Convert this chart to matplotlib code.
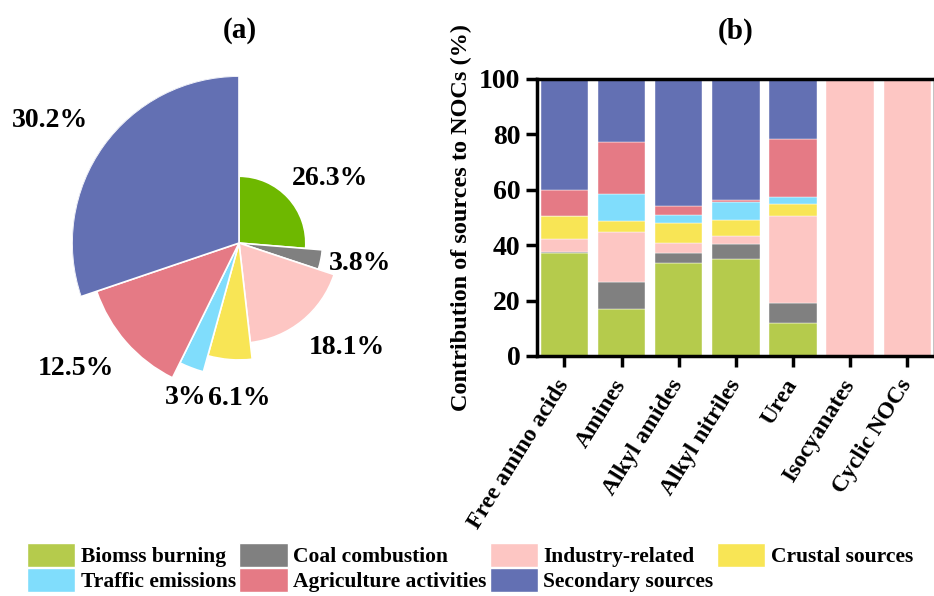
import numpy as np
import matplotlib
matplotlib.use("Agg")
from matplotlib import pyplot as plt
from matplotlib.patches import Patch

plt.rcParams['font.family'] = ['Liberation Serif', 'DejaVu Serif']
plt.rcParams['font.weight'] = 'bold'

# source categories (bottom -> top in the stacked bars)
sources = ["Biomss burning", "Coal combustion", "Industry-related", "Crustal sources",
           "Traffic emissions", "Agriculture activities", "Secondary sources"]
colors = ['#b5cb4c', '#808080', '#fdc6c3', '#f8e555', '#80ddfc', '#e57a85', '#6370b3']
pie_colors = ['#6eb800', '#808080', '#fdc6c3', '#f8e555', '#80ddfc', '#e57a85', '#6370b3']

# (a) overall contribution, %
pie_vals = [26.3, 3.8, 18.1, 6.1, 3.0, 12.5, 30.2]
pie_labels = ["26.3%", "3.8%", "18.1%", "6.1%", "3%", "12.5%", "30.2%"]

# (b) contribution of each source per NOC class, %
classes = ["Free amino acids", "Amines", "Alkyl amides", "Alkyl nitriles",
           "Urea", "Isocyanates", "Cyclic NOCs"]
biomass = [37.1, 17.1, 33.6, 35.0, 11.9, 0, 0]
coal = [0.5, 9.7, 3.7, 5.6, 7.2, 0, 0]
industry = [4.5, 18.1, 3.5, 2.8, 31.4, 100, 100]
crustal = [8.5, 3.7, 7.2, 5.8, 4.5, 0, 0]
traffic = [0.0, 9.8, 2.9, 6.5, 2.4, 0, 0]
agriculture = [9.5, 18.9, 3.1, 0.5, 20.9, 0, 0]
secondary = [39.9, 22.7, 46.0, 43.8, 21.7, 0, 0]

fig = plt.figure(figsize=(9.34, 5.96), dpi=100)

# ---- (a) rose-style pie on a polar axes
axp = fig.add_axes([0.0771, 0.312, 0.3576, 0.5604], projection='polar')
frac = np.array(pie_vals) / np.sum(pie_vals)
widths = frac * 2 * np.pi
starts = np.concatenate([[0], np.cumsum(widths)[:-1]])
radii = 0.4 + 0.1 * np.arange(len(pie_vals))
axp.set_theta_zero_location('N')
axp.set_theta_direction(-1)
axp.bar(starts, radii, width=widths, align='edge', color=pie_colors,
        edgecolor='white', linewidth=1.2)
axp.set_ylim(0, 1)
axp.set_axis_off()

nudge = [7.2, -2.1, -7.0, -4.5, -2.0, 3.7, -2.6]
lab_r = [0.67, 0.737, 0.90, 0.93, 0.98, 1.23, 1.35]
for s, w, lab, dn, r in zip(starts, widths, pie_labels, nudge, lab_r):
    th = s + w / 2 + np.deg2rad(dn)
    axp.text(th, r, lab, ha='center', va='center', fontsize=20, fontweight='bold')

# ---- (b) stacked bars
ax = fig.add_axes([0.575, 0.4027, 0.4256, 0.4648])
x = np.arange(len(classes))
bottom = np.zeros(len(classes))
for vals, c in zip([biomass, coal, industry, crustal, traffic, agriculture, secondary], colors):
    ax.bar(x, vals, bottom=bottom, width=0.83, color=c, edgecolor='white', linewidth=0.3)
    bottom += np.array(vals)

ax.set_xlim(-0.478, 6.478)
ax.set_ylim(0, 100)
ax.set_yticks([0, 20, 40, 60, 80, 100])
ax.set_xticks(x)
ax.set_xticklabels(classes, rotation=58, ha='right', va='center', rotation_mode='anchor', fontsize=17)
for lab in ax.get_yticklabels():
    lab.set_fontsize(20)
ax.tick_params(axis='y', direction='out', length=8, width=2.5, pad=4)
ax.tick_params(axis='x', direction='out', length=8, width=2.5, pad=10)
for sp in ax.spines.values():
    sp.set_linewidth(2.5)
ax.set_ylabel("Contribution of sources to NOCs (%)", fontsize=17.5, fontweight='bold')
ax.yaxis.set_label_coords(-0.1635, 0.5)

fig.text(240 / 934, 1 - 31 / 596, "(a)", ha='center', va='center', fontsize=21, fontweight='bold')
fig.text(736 / 934, 1 - 31 / 596, "(b)", ha='center', va='center', fontsize=21, fontweight='bold')

# legend, filled column by column
order = [0, 4, 1, 5, 2, 6, 3]
handles = [Patch(facecolor=colors[i], edgecolor='white', label=sources[i]) for i in order]
fig.legend(handles=handles, loc='upper left', bbox_to_anchor=(27 / 934, 1 - 543 / 596),
           ncol=4, frameon=False, fontsize=15.5, borderpad=0, borderaxespad=0,
           handlelength=2.25, handleheight=1.32, handletextpad=0.25,
           columnspacing=0.15, labelspacing=0.05)

fig.savefig("out.png", dpi=100)
